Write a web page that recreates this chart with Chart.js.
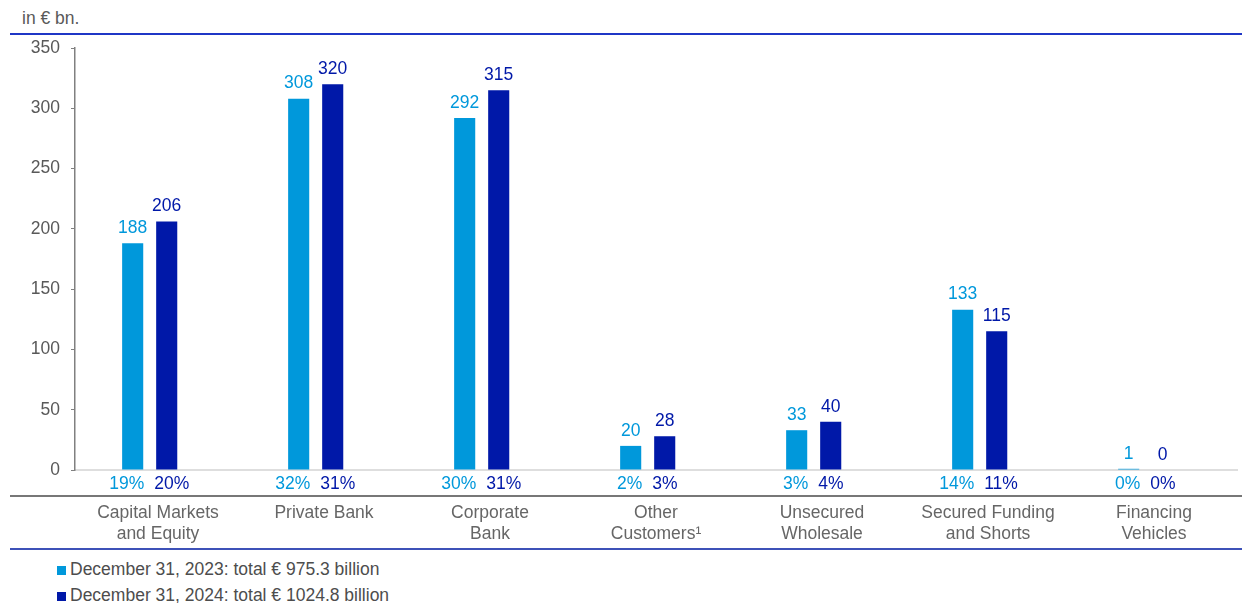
<!DOCTYPE html>
<html>
<head>
<meta charset="utf-8">
<script src="https://cdn.jsdelivr.net/npm/chart.js@4.4.1/dist/chart.umd.min.js"></script>
<style>
  body { margin: 0; width: 1242px; height: 603px; overflow: hidden; background: #fff; position: relative;
         font-family: "Liberation Sans", Arial, sans-serif; }
  #chart { position: absolute; left: 0; top: 0; }
  .rule { position: absolute; left: 10px; right: 0; }
  .unit { position: absolute; left: 22px; top: 8px; font-size: 17.5px; color: #595959; }
  .legend { position: absolute; left: 57px; font-size: 17.5px; color: #4d4d4d; white-space: nowrap; }
  .legend span { display: inline-block; width: 9px; height: 9px; margin-right: 4px; }
</style>
</head>
<body>
<div class="unit">in € bn.</div>
<div class="rule" style="top:33px;height:2px;background:#1f36c6"></div>
<div class="rule" style="top:495px;height:2px;background:#777"></div>
<div class="rule" style="top:548px;height:2px;background:#3d51b8"></div>
<div class="legend" style="top:559px"><span style="background:#0098db"></span>December 31, 2023: total € 975.3 billion</div>
<div class="legend" style="top:585px"><span style="background:#0018a8"></span>December 31, 2024: total € 1024.8 billion</div>
<canvas id="chart" width="1242" height="603"></canvas>
<script>
(function () {
    // Data
    const categories = [
        ['Capital Markets', 'and Equity'], ['Private Bank'], ['Corporate', 'Bank'],
        ['Other', 'Customers¹'], ['Unsecured', 'Wholesale'], ['Secured Funding', 'and Shorts'],
        ['Financing', 'Vehicles']
    ];
    const values2023 = [188, 308, 292, 20, 33, 133, 1];
    const values2024 = [206, 320, 315, 28, 40, 115, 0];
    const shares2023 = ['19%', '32%', '30%', '2%', '3%', '14%', '0%'];
    const shares2024 = ['20%', '31%', '31%', '3%', '4%', '11%', '0%'];

    const LIGHT = '#0098db';
    const DARK = '#0018a8';
    const FONT = '"Liberation Sans", Arial, sans-serif';

    // value labels above bars, shares just under the zero line
    const barLabels = {
        id: 'barLabels',
        afterDatasetsDraw(chart) {
            const { ctx, chartArea } = chart;
            ctx.save();
            ctx.font = '17.5px ' + FONT;
            chart.data.datasets.forEach((ds, di) => {
                const meta = chart.getDatasetMeta(di);
                meta.data.forEach((bar, i) => {
                    ctx.fillStyle = ds.textColor;
                    ctx.textAlign = 'center';
                    ctx.textBaseline = 'middle';
                    ctx.fillText(String(ds.data[i].y), bar.x, bar.y - 15);
                    const half = bar.width / 2;
                    ctx.textAlign = di === 0 ? 'right' : 'left';
                    ctx.fillText(ds.shares[i], di === 0 ? bar.x + half + 1 : bar.x - half - 2, chartArea.bottom + 14);
                });
            });
            ctx.restore();
        }
    };

    new Chart(document.getElementById('chart'), {
        type: 'bar',
        data: {
            datasets: [
                { label: '2023', data: values2023.map((v, i) => ({ x: i, y: v })), backgroundColor: LIGHT,
                  textColor: LIGHT, shares: shares2023, xAxisID: 'x' },
                { label: '2024', data: values2024.map((v, i) => ({ x: i, y: v })), backgroundColor: DARK,
                  textColor: DARK, shares: shares2024, xAxisID: 'x' }
            ]
        },
        options: {
            responsive: false,
            animation: false,
            categoryPercentage: 0.41,
            barPercentage: 0.62,
            layout: { padding: { left: 0, top: 48, right: 5, bottom: 0 } },
            plugins: { legend: { display: false }, tooltip: { enabled: false } },
            scales: {
                // bars sit on a hidden index axis, labels come from the category axis below
                x: {
                    type: 'linear', position: 'bottom', min: -0.45, max: 6.55, weight: 1,
                    offset: false, fullSize: false,
                    afterBuildTicks: s => { s.ticks = categories.map((c, i) => ({ value: i })); },
                    ticks: { display: false },
                    grid: { display: false, drawTicks: false, offset: false },
                    border: { display: false },
                    afterFit: s => { s.height = 0; }
                },
                xc: {
                    type: 'category', position: 'bottom', labels: categories, offset: true, weight: 0,
                    grid: { display: false, drawTicks: false },
                    border: { color: '#dedede', width: 2 },
                    ticks: { color: '#666', padding: 33, font: { size: 17.5, family: FONT, lineHeight: 1.2 } },
                    afterFit: s => { s.height = 133; }
                },
                y: {
                    min: 0, max: 350,
                    ticks: { stepSize: 50, color: '#595959', padding: 11, font: { size: 17.5, family: FONT } },
                    grid: { drawOnChartArea: false, tickLength: 4, color: '#808080' },
                    border: { color: '#808080', width: 1.5 },
                    afterFit: s => { s.width = 75; }
                }
            }
        },
        plugins: [barLabels]
    });
})();
</script>
</body>
</html>
